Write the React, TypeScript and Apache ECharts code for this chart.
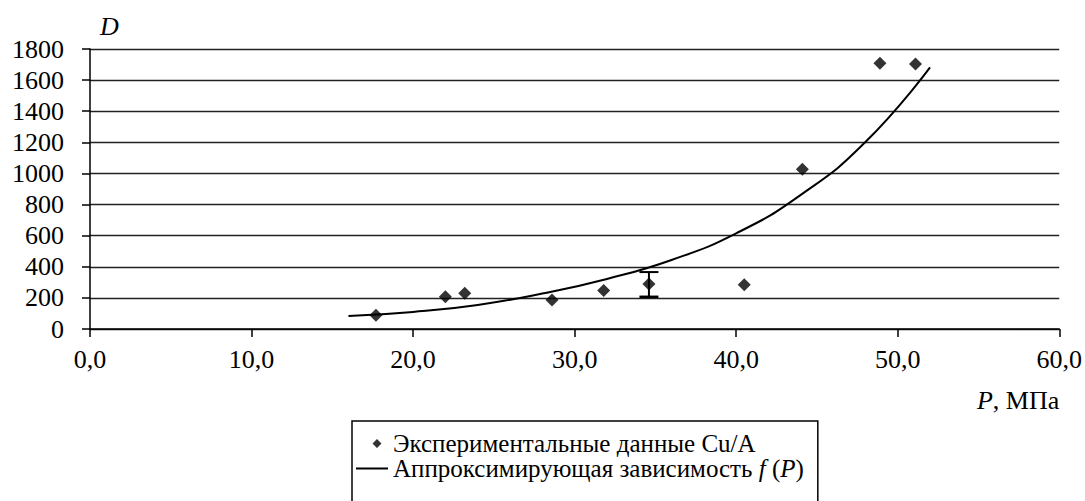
import React, { useEffect, useRef } from "react";
import * as echarts from "echarts";

// Experimental data (P, MPa -> D)
const expP = [17.7, 22.0, 23.2, 28.6, 31.8, 34.6, 40.5, 44.1, 48.9, 51.1];
const expD = [88, 208, 230, 187, 247, 289, 285, 1027, 1708, 1703];

// Error bar (one point)
const errP = [34.6];
const errLow = [207];
const errHigh = [366];

// Approximating curve f(P)
const fitP = [16, 20, 24, 28, 32, 36, 40, 44, 48, 52];
const fitD = [84, 110, 155, 228, 322, 444, 615, 862, 1202, 1682];

const xTicks = [0, 10, 20, 30, 40, 50, 60];
const yTicks = [0, 200, 400, 600, 800, 1000, 1200, 1400, 1600, 1800];

const legendExp = "Экспериментальные данные Cu/A";
const legendFit = "Аппроксимирующая зависимость f (P)";

const FONT = "Liberation Serif";
const LFS = 25;

export default function App() {
  const ref = useRef<HTMLDivElement>(null);
  useEffect(() => {
    if (!ref.current) return;
    const chart = echarts.init(ref.current, null, { renderer: "svg" });
    const option: any = {
      animation: false,
      backgroundColor: "#fff",
      textStyle: { fontFamily: FONT, color: "#000" },
      grid: { left: 90, right: 25, top: 49, bottom: 172, containLabel: false },
      xAxis: {
        type: "value",
        min: xTicks[0],
        max: xTicks[xTicks.length - 1],
        interval: 10,
        name: "{i|P}{t|, МПа}",
        nameLocation: "end",
        nameGap: 0,
        nameTextStyle: {
          align: "right",
          verticalAlign: "top",
          padding: [58, 0, 0, 0],
          fontFamily: FONT,
          fontSize: 26,
          color: "#000",
          rich: {
            i: { fontFamily: FONT, fontSize: 26, fontStyle: "italic", color: "#000" },
            t: { fontFamily: FONT, fontSize: 26, color: "#000" },
          },
        },
        axisLine: { show: true, onZero: false, lineStyle: { color: "#000", width: 1.5 } },
        axisTick: { show: true, inside: false, length: 8, lineStyle: { color: "#000", width: 1.5 } },
        axisLabel: {
          margin: 17,
          fontFamily: FONT,
          fontSize: 26,
          color: "#000",
          formatter: (v: number) => "{t|" + v.toFixed(1).replace(".", ",") + "}",
          rich: { t: { fontFamily: FONT, fontSize: 26, color: "#000" } },
        },
        splitLine: { show: false },
      },
      yAxis: {
        type: "value",
        min: yTicks[0],
        max: yTicks[yTicks.length - 1],
        interval: 200,
        name: "{i|D}",
        nameLocation: "end",
        nameGap: 10,
        nameTextStyle: {
          align: "left",
          padding: [0, 0, 0, 10],
          fontFamily: FONT,
          fontSize: 26,
          fontStyle: "italic",
          color: "#000",
          rich: { i: { fontFamily: FONT, fontSize: 26, fontStyle: "italic", color: "#000" } },
        },
        axisLine: { show: true, lineStyle: { color: "#000", width: 1.5 } },
        axisTick: { show: true, inside: false, length: 8, lineStyle: { color: "#000", width: 1.5 } },
        axisLabel: {
          margin: 26,
          fontFamily: FONT,
          fontSize: 26,
          color: "#000",
          formatter: (v: number) => "{t|" + String(v) + "}",
          rich: { t: { fontFamily: FONT, fontSize: 26, color: "#000" } },
        },
        splitLine: { show: true, lineStyle: { color: "#222", width: 1.3 } },
      },
      legend: {
        orient: "vertical",
        left: 352,
        top: 421,
        height: 60,
        padding: [10, 14, 30, 4],
        borderColor: "#000",
        borderWidth: 1.5,
        backgroundColor: "#fff",
        itemWidth: 32,
        itemHeight: 10,
        itemGap: 0,
        symbolKeepAspect: true,
        data: [
          {
            name: legendExp,
            icon: "path://M0,0 L0.01,0 L0,0.01 Z M32,10 L31.99,10 L32,9.99 Z M21,0.5 L25.5,5 L21,9.5 L16.5,5 Z",
          },
          { name: legendFit, icon: "path://M0,4 H32 V6 H0 Z" },
        ],
        formatter: (name: string) =>
          name === legendFit
            ? "{t|Аппроксимирующая зависимость }{i|f}{t| (}{i|P}{t|)}"
            : "{t|" + name + "}",
        textStyle: {
          fontFamily: FONT,
          fontSize: LFS,
          color: "#000",
          lineHeight: 25,
          rich: {
            t: { fontFamily: FONT, fontSize: LFS, color: "#000", lineHeight: 25 },
            i: { fontFamily: FONT, fontSize: LFS, fontStyle: "italic", color: "#000", lineHeight: 25 },
          },
        },
      },
      series: [
        {
          name: legendFit,
          type: "line",
          data: fitP.map((p, i) => [p, fitD[i]]),
          smooth: true,
          symbol: "none",
          showSymbol: false,
          lineStyle: { color: "#000", width: 2 },
          itemStyle: { color: "#000" },
          z: 3,
        },
        {
          name: "err",
          type: "custom",
          data: errP.map((p, i) => [p, errLow[i], errHigh[i]]),
          renderItem: (params: any, api: any) => {
            const x = api.value(0);
            const lo = api.coord([x, api.value(1)]);
            const hi = api.coord([x, api.value(2)]);
            const w = 9.5;
            const st = { stroke: "#000", lineWidth: 2, fill: "none" };
            return {
              type: "group",
              children: [
                { type: "line", shape: { x1: lo[0], y1: lo[1], x2: hi[0], y2: hi[1] }, style: st },
                { type: "line", shape: { x1: lo[0] - w, y1: lo[1], x2: lo[0] + w, y2: lo[1] }, style: { ...st, lineWidth: 2.5 } },
                { type: "line", shape: { x1: hi[0] - w, y1: hi[1], x2: hi[0] + w, y2: hi[1] }, style: st },
              ],
            };
          },
          z: 4,
        },
        {
          name: legendExp,
          type: "scatter",
          data: expP.map((p, i) => [p, expD[i]]),
          symbol: "diamond",
          symbolSize: 13,
          itemStyle: { color: "#000" },
          z: 5,
        },
      ],
    };
    chart.setOption(option);
    return () => chart.dispose();
  }, []);
  return (
    <div
      ref={ref}
      style={{ position: "absolute", left: 0, top: 0, width: 1085, height: 501, background: "#fff" }}
    />
  );
}
